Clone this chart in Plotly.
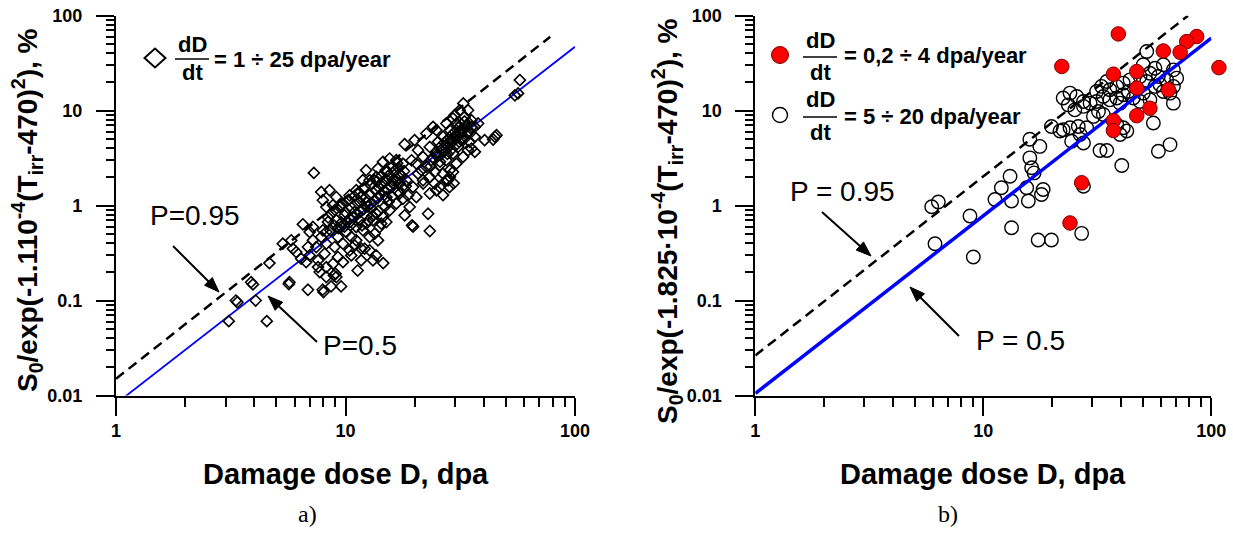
import math
import plotly.graph_objects as go

W, H = 1233, 533

# ---------------- data: panel a ----------------
D_a = [6.10, 6.41, 6.74, 6.98, 7.46, 7.84, 8.25, 7.59, 7.72, 8.25, 8.82, 9.27, 9.75, 10.42, 10.96, 11.14,
       11.72, 12.74, 13.40, 14.08, 13.85, 10.60, 10.08, 9.58, 9.12, 8.67, 8.25, 7.97, 7.84, 8.52, 9.12, 9.75,
       10.42, 11.14, 11.72, 12.32, 12.95, 13.62, 14.56, 14.32, 15.57, 16.65, 17.80, 18.72, 17.22, 15.84, 14.81,
       13.62, 12.74, 12.12, 10.96, 10.42, 11.52, 12.32, 13.17, 15.06, 16.10, 17.22, 18.41, 19.68, 20.36, 20.70,
       17.80, 16.65, 15.57, 14.56, 13.85, 15.06, 17.22, 19.04, 18.11, 9.75, 8.97, 8.11, 7.21, 6.86, 9.27, 11.92,
       15.06, 11.14, 9.91, 9.43, 8.82, 8.39, 7.97, 7.21, 8.25, 12.74, 13.17, 12.12, 10.60, 6.98, 5.90, 5.80,
       9.12, 8.25, 7.59, 5.33,
       22.51, 23.67, 24.89, 26.17, 27.52, 28.93, 30.42, 31.99, 33.63, 35.37, 36.57, 34.78, 32.53, 30.94, 29.42,
       27.52, 25.73, 24.47, 23.28, 21.77, 26.61, 28.46, 30.42, 33.07, 34.20, 29.42, 24.89, 24.07, 27.52, 31.46,
       21.77, 20.70, 23.28, 25.30, 22.51, 28.46, 26.61, 34.78, 36.57, 37.82, 34.20, 32.53, 30.42, 27.98, 25.73,
       20.36, 21.41, 24.47,
       3.10, 4.54, 3.33, 3.38, 4.06, 3.88, 3.95, 4.66, 5.70, 5.66, 6.86, 7.96, 8.02, 8.65, 9.57, 8.90, 9.05,
       11.30, 14.60, 13.60, 11.70, 6.52, 7.28, 23.3, 22.9, 19.5, 19.7, 18.1, 20.0, 32.6, 56.5, 54.7, 57.5, 29.9,
       40.4, 44.8, 45.5, 44.0, 35.4, 36.6, 29.4, 27.5, 28.4, 26.6, 21.8, 23.3, 24.9, 12.3, 19.4, 11.9, 29.6, 28.5,
       8.6, 8.9, 9.3, 9.6, 9.9, 10.2, 10.5, 10.8, 11.2, 11.6, 12.0, 12.5, 12.9, 13.3, 13.8, 14.2, 14.7, 15.2,
       15.7, 16.2, 16.8, 17.5, 18.0, 10.0, 10.6, 11.0, 11.5, 12.2, 12.8, 13.5, 14.0, 14.5, 15.0, 15.5, 16.3,
       17.0, 11.8, 12.6, 13.1, 13.9, 14.8, 15.4, 16.0, 16.9, 17.6, 18.3, 9.0, 9.5, 8.4, 10.3, 10.9, 11.4, 12.0,
       12.9, 13.7, 14.3, 15.1, 16.0, 16.8,
       25.5, 26.5, 27.5, 28.5, 29.5, 30.5, 31.5, 32.5, 33.5, 34.5, 26.0, 27.0, 28.0, 29.0, 30.0, 31.0, 32.0,
       33.0, 27.8, 29.0, 30.2, 31.3, 32.4, 33.5, 34.6, 35.5, 24.0, 24.8, 25.8, 23.5]
S_a = [0.324, 0.276, 0.254, 0.299, 0.366, 0.467, 0.527, 0.265, 0.20, 0.225, 0.244, 0.287, 0.254, 0.338, 0.381,
       0.431, 0.352, 0.467, 0.506, 0.595, 0.431, 0.467, 0.527, 0.595, 0.700, 0.823, 0.967, 1.14, 1.39, 1.45, 1.23,
       1.05, 1.28, 1.45, 1.23, 1.09, 0.929, 0.823, 0.759, 0.645, 0.892, 1.05, 1.18, 1.28, 1.34, 1.57, 1.78, 2.00,
       1.85, 1.57, 0.857, 0.729, 0.700, 0.645, 0.700, 1.23, 1.85, 2.17, 1.85, 1.57, 1.23, 2.17, 2.77, 3.01, 3.13,
       2.89, 2.46, 2.36, 1.71, 0.967, 0.790, 0.397, 0.366, 0.311, 0.431, 0.366, 0.467, 0.549, 0.672, 0.595, 0.790,
       0.967, 1.01, 0.672, 0.549, 0.595, 0.397, 0.338, 0.265, 0.352, 0.299, 0.527, 0.352, 0.431, 0.177, 0.177,
       0.225, 0.397,
       2.56, 3.01, 3.39, 3.83, 4.33, 4.89, 5.52, 6.23, 7.03, 7.94, 6.75, 5.74, 4.89, 4.15, 3.53, 3.01, 2.66, 2.26,
       2.00, 1.85, 5.30, 6.23, 7.32, 8.61, 10.1, 8.27, 6.23, 6.75, 7.32, 10.1, 3.26, 3.83, 4.15, 4.69, 5.74, 2.36,
       2.17, 4.69, 5.30, 7.32, 3.83, 3.26, 2.77, 1.85, 1.57, 2.77, 2.36, 1.71,
       0.0607, 0.0607, 0.100, 0.096, 0.100, 0.156, 0.148, 0.248, 0.156, 0.149, 0.130, 0.130, 0.123, 0.141, 0.141,
       0.184, 0.192, 0.207, 0.248, 0.299, 0.265, 0.635, 2.21, 0.54, 0.82, 0.62, 0.60, 4.43, 4.89, 11.9, 15.2,
       14.5, 21.0, 8.98, 4.89, 5.30, 5.52, 4.97, 3.99, 3.68, 2.26, 1.85, 1.57, 1.29, 1.71, 1.34, 1.45, 2.36, 3.00,
       1.85, 1.72, 2.00,
       0.55, 0.62, 0.58, 0.66, 0.60, 0.68, 0.62, 0.75, 0.80, 0.86, 0.92, 0.98, 1.05, 1.12, 1.20, 1.30, 1.42, 1.50,
       1.62, 1.70, 1.90, 2.05, 2.30, 0.85, 0.95, 1.02, 1.10, 1.20, 1.30, 1.45, 1.55, 1.70, 1.90, 2.10, 2.30,
       2.50, 0.62, 0.70, 0.78, 0.88, 0.97, 1.10, 1.25, 1.40, 1.55, 1.60, 0.90, 1.00, 0.75, 1.15, 1.25, 1.35, 1.50,
       1.65, 1.80, 2.05, 2.25, 2.60, 2.80,
       3.4, 3.7, 4.0, 4.4, 4.8, 5.2, 5.7, 6.2, 6.8, 7.4, 4.2, 4.6, 5.0, 5.5, 6.0, 6.6, 7.2,
       7.7, 3.5, 3.9, 4.3, 4.7, 5.2, 5.6, 6.1, 6.7, 3.2, 3.6, 2.9, 2.6]

# fit lines, panel a
FIT50_A_D = [1, 100]
FIT50_A_S = [0.0082, 47]
FIT95_A_D = [1, 78]
FIT95_A_S = [0.015, 60]

# ---------------- data: panel b ----------------
D_b_open = [52.1, 50.3, 56.6, 61.6, 68.2, 70.5, 63.7, 58.6, 53.8, 52.1, 56.6, 61.6, 59.6, 68.2, 65.9, 48.7,
            44.0, 41.1, 38.5, 35.9, 34.8, 33.0, 31.4, 33.6, 35.9, 38.5, 41.1, 39.8, 43.3, 45.5, 48.7, 50.3,
            53.8, 24.0, 25.7, 27.5, 22.4, 23.6, 25.2, 27.5, 29.4, 31.4, 32.0, 30.4, 33.6, 21.7, 22.4, 24.0,
            26.1, 28.4, 26.6, 24.4, 27.5, 41.1, 39.8, 42.6, 38.5, 68.2, 55.7, 65.9, 58.6, 40.5, 34.8, 32.5,
            16.0, 17.7, 16.0, 16.3, 16.7, 13.1, 12.0, 11.25, 13.3, 15.76, 15.5, 18.3, 18.0, 5.94, 6.35, 8.74,
            6.14, 9.04, 13.3, 17.4, 19.9, 27.0, 27.5, 19.9]
S_b_open = [41.9, 30.4, 28.0, 30.4, 26.9, 22.0, 21.1, 22.9, 24.8, 20.3, 18.0, 15.9, 18.7, 18.0, 15.3, 22.9,
            21.1, 19.5, 18.0, 16.6, 20.3, 18.0, 15.9, 14.1, 13.0, 13.6, 14.7, 12.0, 15.9, 13.6, 12.5, 15.3,
            13.0, 15.3, 14.1, 12.5, 13.6, 11.5, 10.2, 11.1, 12.0, 12.5, 9.8, 8.7, 9.1, 6.1, 6.3, 6.6,
            6.8, 6.6, 5.6, 4.76, 4.57, 6.6, 5.6, 6.1, 7.1, 12.0, 7.4, 4.39, 3.74, 2.64, 3.8, 3.8,
            5.0, 4.2, 3.18, 2.5, 2.21, 2.04, 1.54, 1.16, 1.12, 1.12, 1.54, 1.48, 1.31, 0.973, 1.09, 0.777,
            0.397, 0.288, 0.585, 0.434, 0.434, 0.51, 1.6, 6.8]
D_b_red = [39.1, 22.1, 86.3, 78.0, 61.6, 73.0, 108, 37.2, 47.1, 47.1, 64.8, 53.8, 47.1, 37.2, 37.2, 27.0, 24.0]
S_b_red = [64.3, 29.2, 60.3, 53.4, 42.5, 41.2, 28.4, 24.2, 25.8, 17.3, 16.6, 10.6, 8.85, 7.85, 6.17, 1.74, 0.656]

FIT50_B_D = [1, 100]
FIT50_B_S = [0.0105, 58]
FIT95_B_D = [1, 79]
FIT95_B_S = [0.0264, 100]

# ticks
X_TICKS = [1, 10, 100]
X_TICKTEXT = ["1", "10", "100"]
Y_TICKS = [0.01, 0.1, 1, 10, 100]
Y_TICKTEXT = ["0.01", "0.1", "1", "10", "100"]

FONT = "Liberation Sans"

# pixel layout of the plot areas
AX_A = (116.0, 575.0)     # x pixel of D=1 and D=100, panel a
AX_B = (755.3, 1211.3)    # panel b
Y_TOP, Y_BOT = 15.7, 395.5


def px(x):
    return x / W


def py(y):
    return 1 - y / H


fig = go.Figure()

# panel a
fig.add_trace(go.Scatter(x=FIT50_A_D, y=FIT50_A_S, mode="lines", line=dict(color="#0000ff", width=1.8),
                         xaxis="x", yaxis="y", showlegend=False))
fig.add_trace(go.Scatter(x=FIT95_A_D, y=FIT95_A_S, mode="lines",
                         line=dict(color="black", width=2.5, dash="10px,6px"),
                         xaxis="x", yaxis="y", showlegend=False))
fig.add_trace(go.Scatter(x=D_a, y=S_a, mode="markers",
                         marker=dict(symbol="diamond-open", size=8.5, color="black", line=dict(width=1.6, color="black")),
                         xaxis="x", yaxis="y", showlegend=False))

# panel b
fig.add_trace(go.Scatter(x=D_b_open, y=S_b_open, mode="markers",
                         marker=dict(symbol="circle-open", size=13.5, color="black", line=dict(width=1.4, color="black")),
                         xaxis="x2", yaxis="y2", showlegend=False))
fig.add_trace(go.Scatter(x=FIT50_B_D, y=FIT50_B_S, mode="lines", line=dict(color="#0000ff", width=3.5),
                         xaxis="x2", yaxis="y2", showlegend=False))
fig.add_trace(go.Scatter(x=FIT95_B_D, y=FIT95_B_S, mode="lines",
                         line=dict(color="black", width=2.5, dash="10px,6px"),
                         xaxis="x2", yaxis="y2", showlegend=False))
# red points: invisible x axis with the same scale as panel b, extended past 100 so D>100 is drawn
fig.add_trace(go.Scatter(x=D_b_red, y=S_b_red, mode="markers", cliponaxis=False,
                         marker=dict(symbol="circle", size=14.5, color="#ff0000", line=dict(width=1, color="#7a0000")),
                         xaxis="x3", yaxis="y2", showlegend=False))

NB = "\u00a0"
BOLD = ["<b>%s</b>" % t for t in X_TICKTEXT]
BOLDY = ["<b>%s</b>%s" % (t, NB * 2) for t in Y_TICKTEXT]
TF = dict(family=FONT, size=18, color="black")

YDOM = [py(Y_BOT), py(Y_TOP)]
dec_b = (AX_B[1] - AX_B[0]) / 2
X3_MAX = 2.06

common = dict(type="log", showline=True, linecolor="black", linewidth=2, showgrid=False, zeroline=False,
              ticks="outside", tickcolor="black", tickwidth=2, tickfont=TF, tickmode="array",
              automargin=False)
XMINOR = dict(ticks="outside", ticklen=9, tickwidth=2, tickcolor="black", dtick="D1")
YMINOR = dict(ticks="outside", ticklen=8, tickwidth=1.5, tickcolor="black", dtick="D1")

fig.update_layout(
    width=W, height=H, autosize=False,
    margin=dict(l=0, r=0, t=0, b=0, pad=0, autoexpand=False),
    paper_bgcolor="white", plot_bgcolor="rgba(0,0,0,0)",
    xaxis=dict(common, range=[0, 2], domain=[px(AX_A[0]), px(AX_A[1])], anchor="y", ticklen=18,
               tickvals=X_TICKS, ticktext=BOLD, minor=XMINOR),
    yaxis=dict(common, range=[-2, 2], domain=YDOM, anchor="x", ticklen=18,
               tickvals=Y_TICKS, ticktext=BOLDY, minor=YMINOR),
    xaxis2=dict(common, range=[0, 2], domain=[px(AX_B[0]), px(AX_B[1])], anchor="y2", ticklen=18,
                tickvals=X_TICKS, ticktext=BOLD, minor=XMINOR),
    yaxis2=dict(common, range=[-2, 2], domain=YDOM, anchor="x2", ticklen=18,
                tickvals=Y_TICKS, ticktext=BOLDY, minor=YMINOR),
    xaxis3=dict(type="log", range=[0, X3_MAX], domain=[px(AX_B[0]), px(AX_B[0] + X3_MAX * dec_b)],
                anchor="y2", visible=False, showgrid=False, zeroline=False, automargin=False),
)

ann = []
shapes = []


def text(x, y, s, size, bold=False, xanchor="center", family=FONT, angle=0):
    ann.append(dict(x=px(x), y=py(y), xref="paper", yref="paper", text=("<b>%s</b>" % s) if bold else s,
                    showarrow=False, xanchor=xanchor, yanchor="middle", textangle=angle,
                    font=dict(family=family, size=size, color="black")))


def arrow(tx, ty, hx, hy, head=15, half=5.5):
    L = math.hypot(hx - tx, hy - ty)
    ux, uy = (hx - tx) / L, (hy - ty) / L
    bx, by = hx - head * ux, hy - head * uy
    shapes.append(dict(type="line", xref="paper", yref="paper", x0=px(tx), y0=py(ty), x1=px(bx + 2 * ux),
                       y1=py(by + 2 * uy), line=dict(color="black", width=2)))
    p1 = (bx - half * uy, by + half * ux)
    p2 = (bx + half * uy, by - half * ux)
    shapes.append(dict(type="path", xref="paper", yref="paper",
                       path=f"M {px(hx)},{py(hy)} L {px(p1[0])},{py(p1[1])} L {px(p2[0])},{py(p2[1])} Z",
                       line=dict(color="black", width=1), fillcolor="black"))


def hline(x0, x1, y, w=1.5):
    shapes.append(dict(type="line", xref="paper", yref="paper", x0=px(x0), x1=px(x1), y0=py(y), y1=py(y),
                       line=dict(color="black", width=w)))


# axis titles
text(346, 474, "Damage dose D, dpa", 29, bold=True)
text(983, 474, "Damage dose D, dpa", 29, bold=True)
text(27, 210, "S<sub>0</sub>/exp(-1.110<sup>-4</sup>(T<sub>irr</sub>-470)<sup>2</sup>), %", 28, bold=True, angle=-90)
text(667, 221, "S<sub>0</sub>/exp(-1.825·10<sup>-4</sup>(T<sub>irr</sub>-470)<sup>2</sup>), %", 28, bold=True, angle=-90)

# captions
text(307, 514, "a)", 24, family="Liberation Serif")
text(948, 514, "b)", 24, family="Liberation Serif")

# P labels and arrows
text(195, 215, "P=0.95", 28)
text(360, 345, "P=0.5", 28)
text(842, 191, "P = 0.95", 28)
text(1020, 340, "P = 0.5", 28)
arrow(173, 246, 219, 292)
arrow(317, 342, 268, 296)
arrow(822, 212, 871, 256)
arrow(959, 336, 910, 287)

# legend panel a
shapes.append(dict(type="path", xref="paper", yref="paper",
                   path=f"M {px(144.5)},{py(58)} L {px(155)},{py(48.5)} L {px(165.5)},{py(58)} L {px(155)},{py(67.5)} Z",
                   line=dict(color="black", width=2), fillcolor="rgba(0,0,0,0)"))
text(192, 45, "dD", 22, bold=True)
hline(175, 209, 59)
text(192, 73, "dt", 22, bold=True)
text(212, 59, "= 1 ÷ 25 dpa/year", 22, bold=True, xanchor="left")

# legend panel b
shapes.append(dict(type="circle", xref="paper", yref="paper", x0=px(771.5), x1=px(788.5), y0=py(63.5), y1=py(46.5),
                   line=dict(color="#7a0000", width=1), fillcolor="#ff0000"))
text(820, 41, "dD", 22, bold=True)
hline(803, 837, 57)
text(820, 72, "dt", 22, bold=True)
text(842, 56, "= 0,2 ÷ 4 dpa/year", 22, bold=True, xanchor="left")

shapes.append(dict(type="circle", xref="paper", yref="paper", x0=px(772.5), x1=px(787.5), y0=py(122.5), y1=py(107.5),
                   line=dict(color="black", width=1.4), fillcolor="rgba(0,0,0,0)"))
text(820, 100, "dD", 22, bold=True)
hline(803, 837, 117)
text(820, 132, "dt", 22, bold=True)
text(842, 116, "= 5 ÷ 20 dpa/year", 22, bold=True, xanchor="left")

fig.update_layout(annotations=ann, shapes=shapes)
fig.write_html("out.html", config={"displayModeBar": False},
               post_script="document.body.style.margin='0';document.body.style.overflow='hidden';")
